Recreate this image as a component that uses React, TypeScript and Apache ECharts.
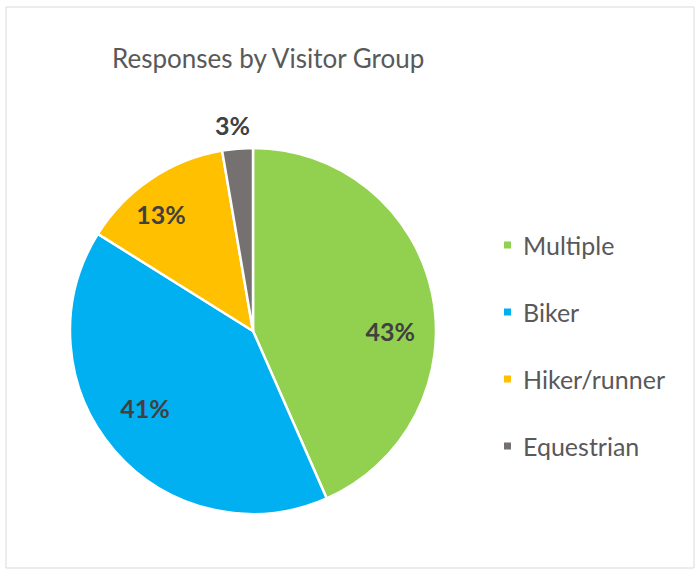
import React, { useEffect, useRef } from "react";
import * as echarts from "echarts";

const categories = ["Multiple", "Biker", "Hiker/runner", "Equestrian"];
const shares = [43.4, 40.5, 13.4, 2.7];
const colors = ["#92D050", "#00B0F0", "#FFC000", "#767171"];
const titleText = "Responses by Visitor Group";

// small label nudges (px) to mimic the original label placement
const labelNudge: number[][] = [
  [0, 29],
  [-2, -15],
  [-14, -1],
  [-3, 0],
];

const FONT = "Lato, 'Open Sans', sans-serif";

export default function App() {
  const ref = useRef<HTMLDivElement>(null);

  useEffect(() => {
    if (!ref.current) return;
    const chart = echarts.init(ref.current, undefined, { renderer: "svg" });
    const center = [253, 331];
    const R = 183;
    const fmt = (p: any) => Math.round(p.percent) + "%";
    const labelStyle = {
      color: "#404040",
      fontFamily: FONT,
      fontWeight: "bold" as const,
      fontSize: 25,
    };
    const nudge = (p: any) => ({
      dx: labelNudge[p.dataIndex][0],
      dy: labelNudge[p.dataIndex][1],
    });

    chart.setOption({
      animation: false,
      backgroundColor: "#ffffff",
      title: {
        text: titleText,
        left: 107,
        top: 40,
        textStyle: {
          color: "#595959",
          fontFamily: FONT,
          fontWeight: "normal",
          fontSize: 26,
        },
      },
      legend: {
        orient: "vertical",
        left: 497,
        top: 227,
        itemWidth: 9,
        itemHeight: 9,
        itemGap: 41,
        icon: "rect",
        data: categories.map((n, i) => ({ name: n, itemStyle: { color: colors[i] } })),
        textStyle: {
          color: "#595959",
          fontFamily: FONT,
          fontSize: 25,
          lineHeight: 26,
          padding: [0, 0, 0, 6],
        },
      },
      graphic: [
        {
          type: "rect",
          shape: { x: 6, y: 7, width: 688, height: 561 },
          style: { fill: "none", stroke: "#d9d9d9", lineWidth: 1 },
          silent: true,
        },
      ],
      series: [
        {
          type: "pie",
          center,
          radius: R,
          startAngle: 90,
          clockwise: true,
          silent: true,
          label: { show: false },
          labelLine: { show: false },
          itemStyle: { borderColor: "#ffffff", borderWidth: 2.5 },
          data: categories.map((n, i) => ({
            name: n,
            value: shares[i],
            itemStyle: { color: colors[i] },
          })),
        },
        {
          type: "pie",
          center,
          radius: R * 1.5,
          startAngle: 90,
          clockwise: true,
          silent: true,
          z: 5,
          itemStyle: { color: "rgba(0,0,0,0)", borderWidth: 0 },
          label: { show: true, position: "inside", formatter: fmt, ...labelStyle },
          labelLine: { show: false },
          labelLayout: nudge,
          data: categories.map((n, i) => ({
            name: n,
            value: shares[i],
            label: { show: i < 3 },
          })),
        },
        {
          type: "pie",
          center,
          radius: R * 2.23,
          startAngle: 90,
          clockwise: true,
          silent: true,
          z: 5,
          itemStyle: { color: "rgba(0,0,0,0)", borderWidth: 0 },
          label: { show: true, position: "inside", formatter: fmt, ...labelStyle },
          labelLine: { show: false },
          labelLayout: nudge,
          data: categories.map((n, i) => ({
            name: n,
            value: shares[i],
            label: { show: i === 3 },
          })),
        },
      ],
    });
    return () => chart.dispose();
  }, []);

  return (
    <div
      ref={ref}
      style={{ position: "absolute", left: 0, top: 0, width: 698, height: 581, background: "#fff" }}
    />
  );
}
